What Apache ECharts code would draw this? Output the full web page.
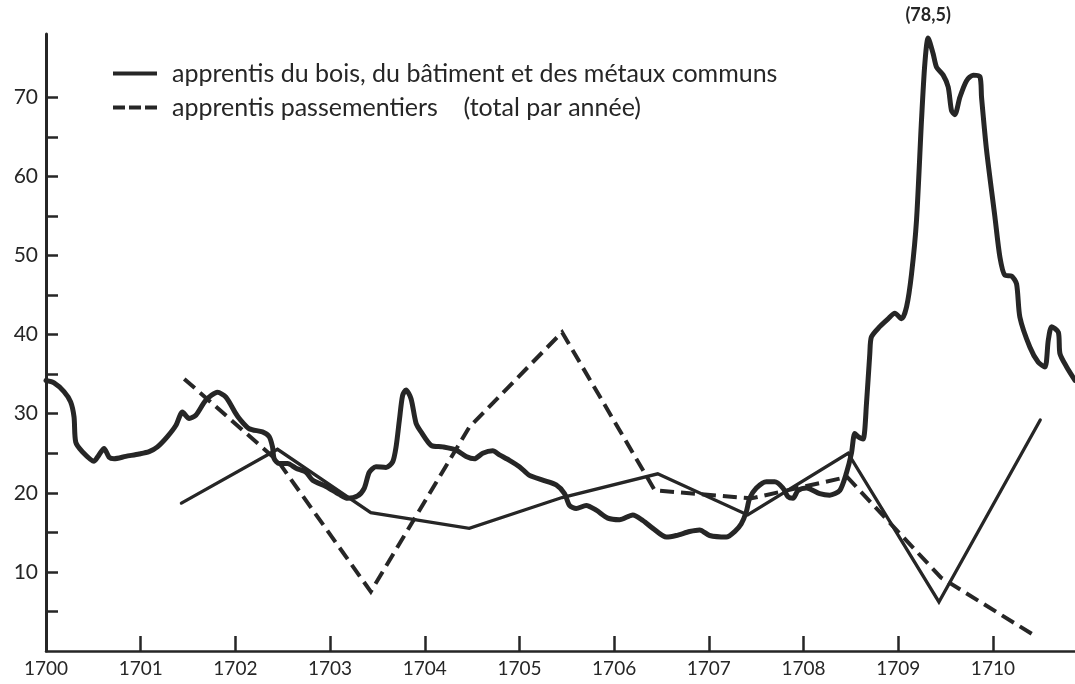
<!DOCTYPE html>
<html>
<head>
<meta charset="utf-8">
<script src="https://cdn.jsdelivr.net/npm/echarts@6/dist/echarts.min.js"></script>
<style>
  html, body { margin: 0; padding: 0; background: #ffffff; }
  #chart { width: 1075px; height: 684px; }
</style>
</head>
<body>
<div id="chart"></div>
<script>
// ---- Data ----
// Thick solid line: apprentis du bois, du bâtiment et des métaux communs (monthly trace)
const boisYears = [
  1700.00, 1700.085, 1700.19, 1700.26, 1700.296, 1700.314, 1700.384, 1700.507, 1700.56, 1700.613,
  1700.666, 1700.719, 1700.842, 1700.983, 1701.089, 1701.177, 1701.282, 1701.371, 1701.441, 1701.512,
  1701.582, 1701.688, 1701.811, 1701.90, 1702.005, 1702.04, 1702.146, 1702.286, 1702.357, 1702.392,
  1702.41, 1702.463, 1702.551, 1702.64, 1702.745, 1702.815, 1702.957, 1703.097, 1703.185, 1703.291,
  1703.362, 1703.414, 1703.485, 1703.591, 1703.661, 1703.697, 1703.732, 1703.766, 1703.802, 1703.855,
  1703.908, 1703.961, 1704.067, 1704.189, 1704.331, 1704.437, 1704.524, 1704.612, 1704.718, 1704.789,
  1704.894, 1705.00, 1705.106, 1705.246, 1705.388, 1705.476, 1705.529, 1705.599, 1705.705, 1705.811,
  1705.933, 1706.057, 1706.197, 1706.303, 1706.409, 1706.551, 1706.656, 1706.797, 1706.903, 1707.008,
  1707.185, 1707.273, 1707.343, 1707.396, 1707.431, 1707.502, 1707.608, 1707.696, 1707.783, 1707.836,
  1707.889, 1707.942, 1708.031, 1708.171, 1708.277, 1708.383, 1708.453, 1708.506, 1708.541, 1708.576,
  1708.629, 1708.665, 1708.70, 1708.717, 1708.805, 1708.893, 1708.964, 1709.035, 1709.088, 1709.141,
  1709.193, 1709.246, 1709.281, 1709.316, 1709.369, 1709.405, 1709.475, 1709.528, 1709.563, 1709.598,
  1709.651, 1709.722, 1709.792, 1709.863, 1709.88, 1709.933, 1710.021, 1710.074, 1710.127, 1710.198,
  1710.25, 1710.285, 1710.391, 1710.479, 1710.55, 1710.585, 1710.621, 1710.691, 1710.708, 1710.779,
  1710.867
];
const boisValues = [
  34.2, 33.9, 32.8, 31.5, 29.6, 26.4, 25.2, 24.0, 24.8, 25.6,
  24.5, 24.3, 24.6, 24.9, 25.2, 25.8, 27.1, 28.5, 30.2, 29.4,
  29.8, 31.7, 32.7, 32.1, 30.0, 29.4, 28.1, 27.7, 27.1, 25.8,
  24.3, 23.7, 23.7, 23.1, 22.6, 21.6, 20.8, 19.8, 19.3, 19.6,
  20.6, 22.6, 23.3, 23.2, 23.9, 25.8, 29.2, 32.3, 33.0, 31.9,
  28.8, 27.7, 26.0, 25.8, 25.4, 24.6, 24.3, 25.0, 25.3, 24.8,
  24.1, 23.3, 22.2, 21.6, 21.0, 19.9, 18.4, 18.0, 18.4, 17.8,
  16.8, 16.6, 17.2, 16.5, 15.5, 14.4, 14.6, 15.1, 15.3, 14.6,
  14.4, 15.1, 16.1, 17.6, 19.3, 20.6, 21.4, 21.4, 20.6, 19.5,
  19.3, 20.3, 20.6, 19.9, 19.7, 20.3, 22.5, 25.0, 27.5, 27.1,
  26.8, 31.3, 37.6, 39.7, 41.0, 42.0, 42.7, 42.0, 43.5, 47.7,
  54.4, 67.1, 74.2, 77.5, 75.5, 73.8, 72.8, 71.3, 68.3, 67.8,
  70.0, 72.1, 72.8, 72.6, 70.0, 63.3, 54.9, 49.8, 47.5, 47.4,
  46.4, 42.2, 38.4, 36.5, 35.9, 39.3, 41.0, 40.3, 37.6, 35.9,
  34.2
];
const peakNote = '(78,5)';

// Thin solid line: yearly totals (bois, bâtiment, métaux communs)
const annualYears = [1701.43, 1702.445, 1703.43, 1704.47, 1705.45, 1706.46, 1707.41, 1708.47, 1709.43, 1710.50];
const annualValues = [18.7, 25.5, 17.5, 15.5, 19.4, 22.4, 17.2, 25.0, 6.2, 29.2];

// Dashed line: apprentis passementiers (total par année)
const passYears = [1701.46, 1702.45, 1703.43, 1704.47, 1705.45, 1706.43, 1707.45, 1708.46, 1709.45, 1710.46];
const passValues = [34.4, 24.0, 7.5, 28.3, 40.3, 20.3, 19.3, 22.0, 9.3, 1.8];

// Axis ticks & labels
const xLabelYears = [1700, 1701, 1702, 1703, 1704, 1705, 1706, 1707, 1708, 1709, 1710];
const xTickYears = [1701, 1702, 1703, 1704, 1705, 1706, 1707, 1708, 1709, 1710];
const yLabelValues = [10, 20, 30, 40, 50, 60, 70];
const yTickValues = [5, 10, 15, 20, 25, 30, 35, 40, 45, 50, 55, 60, 65, 70];

const seriesNames = [
  'apprentis du bois, du bâtiment et des métaux communs',
  'apprentis passementiers    (total par année)'
];

// ---- Chart ----
const INK = '#262626';
const FONT = 'Lato, "DejaVu Sans", sans-serif';
const zip = (xs, ys) => xs.map((x, i) => [x, ys[i]]);

const chart = echarts.init(document.getElementById('chart'), null, { renderer: 'canvas' });
chart.setOption({
  backgroundColor: '#ffffff',
  animation: false,
  grid: { left: 46, right: 0, top: 34, bottom: 33, containLabel: false },
  legend: {
    orient: 'vertical',
    left: 108,
    top: 56,
    itemWidth: 44,
    itemHeight: 4,
    itemGap: 9,
    selectedMode: false,
    textStyle: { color: INK, fontFamily: FONT, fontSize: 25, padding: [0, 0, 0, 10] },
    data: [
      { name: seriesNames[0], icon: 'rect' },
      { name: seriesNames[1], icon: 'path://M0 0H12V4H0Z M16 0H28V4H16Z M32 0H44V4H32Z' }
    ]
  },
  xAxis: {
    type: 'value',
    min: 1700,
    max: 1710.867,
    splitLine: { show: false },
    axisLine: { show: true, lineStyle: { color: INK, width: 2.5 } },
    axisTick: {
      show: true, inside: true, length: 15,
      customValues: xTickYears,
      lineStyle: { color: INK, width: 2.5 }
    },
    axisLabel: {
      customValues: xLabelYears,
      color: INK, fontFamily: FONT, fontSize: 19, margin: 8,
      formatter: v => String(v)
    }
  },
  yAxis: {
    type: 'value',
    min: 0,
    max: 78,
    splitLine: { show: false },
    axisLine: { show: true, lineStyle: { color: INK, width: 3 } },
    axisTick: {
      show: true, inside: true, length: 12,
      customValues: yTickValues,
      lineStyle: { color: INK, width: 2.5 }
    },
    axisLabel: {
      customValues: yLabelValues,
      color: INK, fontFamily: FONT, fontSize: 21, margin: 8
    }
  },
  series: [
    {
      name: seriesNames[0],
      type: 'line',
      data: zip(boisYears, boisValues),
      showSymbol: false,
      symbol: 'none',
      smooth: 0.25,
      color: INK,
      lineStyle: { color: INK, width: 5, cap: 'round', join: 'round' },
      markPoint: {
        symbol: 'circle',
        symbolSize: 0,
        data: [{ type: 'max' }],
        label: {
          show: true, position: 'top', distance: 14,
          formatter: peakNote,
          color: INK, fontFamily: FONT, fontSize: 18, fontWeight: 'bold'
        }
      }
    },
    {
      name: seriesNames[0],
      type: 'line',
      data: zip(annualYears, annualValues),
      showSymbol: false,
      symbol: 'none',
      color: INK,
      lineStyle: { color: INK, width: 3.3, cap: 'round', join: 'miter' }
    },
    {
      name: seriesNames[1],
      type: 'line',
      data: zip(passYears, passValues),
      showSymbol: false,
      symbol: 'none',
      color: INK,
      lineStyle: { color: INK, width: 4, type: [14, 7], join: 'miter' }
    }
  ]
});
</script>
</body>
</html>
